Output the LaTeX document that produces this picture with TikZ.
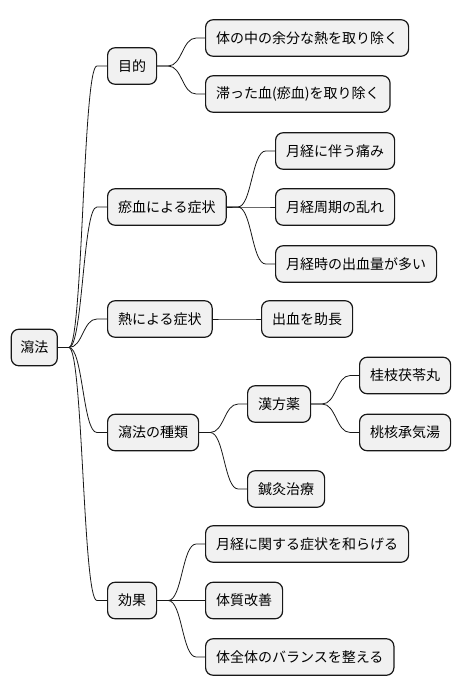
\documentclass[tikz,border=0pt]{standalone}
\usepackage{fontspec}
\setmainfont{Noto Sans CJK JP}
\usetikzlibrary{calc}
\definecolor{boxfill}{HTML}{F1F1F1}
\definecolor{boxline}{HTML}{181818}
\tikzset{
  box/.style={draw=boxline, fill=boxfill, rounded corners=7.5pt, line width=1.2pt,
    minimum height=36.5pt, inner xsep=10.5pt, inner ysep=0pt, anchor=west,
    font=\fontsize{14}{16}\selectfont, text=black},
  conn/.style={draw=boxline, line width=0.8pt}
}
\newcommand\mmconn[2]{\draw[conn] let \p1=(#1.east), \p2=(#2.west) in
  (\p1) -- (\x1+11pt,\y1) .. controls (\x1+25pt,\y1) and (\x1+25pt,\y2) .. (\x1+39pt,\y2) -- (\p2);}
\begin{document}
\begin{tikzpicture}[x=1pt,y=-1pt]
\useasboundingbox (0,0) rectangle (460,696);
\node[box, inner xsep=9pt] (root) at (10.7,347.5) {瀉法};
\node[box] (a) at (107,66) {目的};
\node[box] (a1) at (205,38) {体の中の余分な熱を取り除く};
\node[box] (a2) at (205,94) {滞った血(瘀血)を取り除く};
\node[box] (b) at (107,207) {瘀血による症状};
\node[box] (b1) at (275,151) {月経に伴う痛み};
\node[box] (b2) at (275,207) {月経周期の乱れ};
\node[box] (b3) at (275,264) {月経時の出血量が多い};
\node[box] (c) at (107,319) {熱による症状};
\node[box] (c1) at (261,319) {出血を助長};
\node[box] (d) at (107,432.5) {瀉法の種類};
\node[box] (d1) at (247,404) {漢方薬};
\node[box] (d11) at (359,375.5) {桂枝茯苓丸};
\node[box] (d12) at (359,432.5) {桃核承気湯};
\node[box] (d2) at (247,489) {鍼灸治療};
\node[box] (e) at (107,600.5) {効果};
\node[box] (e1) at (205,544) {月経に関する症状を和らげる};
\node[box] (e2) at (205,600.5) {体質改善};
\node[box] (e3) at (205,657) {体全体のバランスを整える};
\mmconn{root}{a}
\mmconn{root}{b}
\mmconn{root}{c}
\mmconn{root}{d}
\mmconn{root}{e}
\mmconn{a}{a1}
\mmconn{a}{a2}
\mmconn{b}{b1}
\mmconn{b}{b2}
\mmconn{b}{b3}
\mmconn{c}{c1}
\mmconn{d}{d1}
\mmconn{d}{d2}
\mmconn{d1}{d11}
\mmconn{d1}{d12}
\mmconn{e}{e1}
\mmconn{e}{e2}
\mmconn{e}{e3}
\end{tikzpicture}
\end{document}
